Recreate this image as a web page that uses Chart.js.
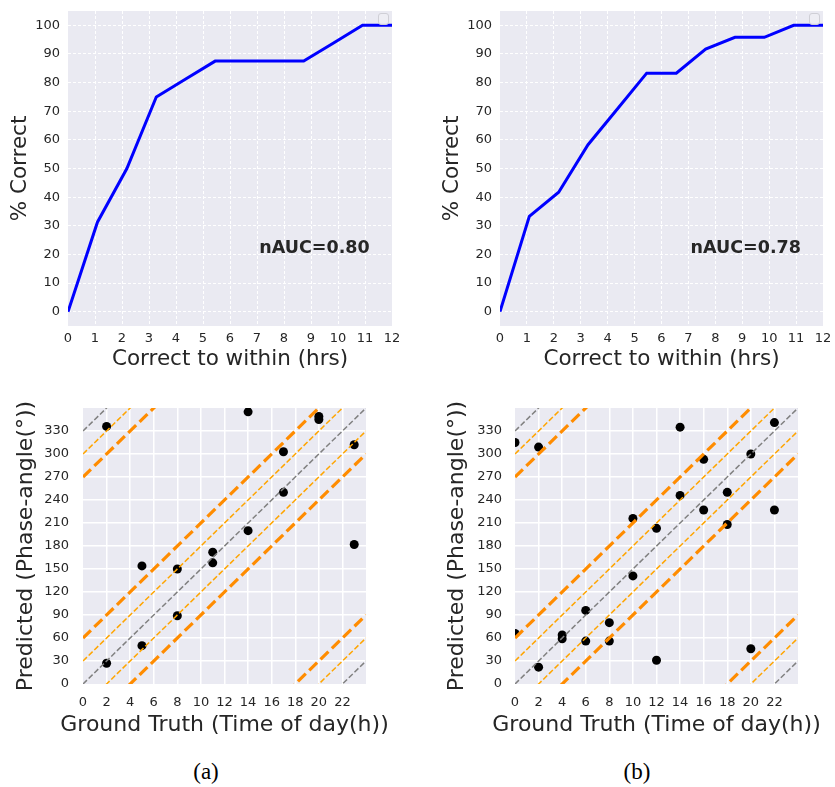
<!DOCTYPE html>
<html><head><meta charset="utf-8">
<script src="https://cdn.jsdelivr.net/npm/chart.js@4.4.1/dist/chart.umd.min.js"></script>
<style>
html,body{margin:0;padding:0;background:#fff;width:835px;height:787px;overflow:hidden;position:relative;}
canvas{position:absolute;}
.cap{position:absolute;font-family:'Liberation Serif','Times New Roman',serif;font-size:23px;color:#000;transform:translate(-50%,-50%);white-space:nowrap;}
</style></head><body>
<canvas id="cTL" width="417" height="380" style="left:0;top:0"></canvas>
<canvas id="cTR" width="418" height="380" style="left:417px;top:0"></canvas>
<canvas id="cBL" width="417" height="360" style="left:0;top:385px"></canvas>
<canvas id="cBR" width="418" height="360" style="left:417px;top:385px"></canvas>
<div class="cap" id="capA" style="left:206px;top:772px"></div>
<div class="cap" id="capB" style="left:637px;top:772px"></div>
<script>
// ---------- data ----------
const tolHours     = [0, 1.09, 2.18, 3.27, 4.36, 5.45, 6.55, 7.64, 8.73, 9.82, 10.91, 12];
const pctCorrectA  = [0, 31.25, 50, 75, 81.25, 87.5, 87.5, 87.5, 87.5, 93.75, 100, 100];
const pctCorrectB  = [0, 33.3, 41.7, 58.3, 70.8, 83.3, 83.3, 91.7, 95.8, 95.8, 100, 100];
const nAucLabels   = ['nAUC=0.80', 'nAUC=0.78'];
const nAucPos      = [9.13, 22];

const truthHoursA  = [2, 2, 5, 5, 8, 8, 11, 11, 14, 14, 17, 17, 20, 20, 23, 23];
const predAngleA   = [336, 27, 154, 50, 150, 89, 172, 158, 355, 200, 303, 250, 349, 345, 312, 182];
const truthHoursB  = [0, 0, 2, 2, 4, 4, 6, 6, 8, 8, 10, 10, 12, 12, 14, 14, 16, 16, 18, 18, 20, 20, 22, 22];
const predAngleB   = [315, 66, 309, 22, 64, 59, 96, 56, 80, 56, 216, 141, 203, 31, 335, 246, 293, 227, 250, 208, 300, 46, 341, 227];

const tolTicks     = [0,1,2,3,4,5,6,7,8,9,10,11,12];
const pctTicks     = [0,10,20,30,40,50,60,70,80,90,100];
const hourTicks    = [0,2,4,6,8,10,12,14,16,18,20,22];
const angleTicks   = [0,30,60,90,120,150,180,210,240,270,300,330];

const degPerHour   = 15;          // 360 deg / 24 h
const hourRange    = [0, 24];
const identityOffsets  = [0, 330, -330];
const innerBandOffsets = [30, -30, 300, -300];
const outerBandOffsets = [60, -60, 270, -270];

const captions = ['(a)', '(b)'];
const xTitleTop = 'Correct to within (hrs)';
const yTitleTop = '% Correct';
const xTitleBot = 'Ground Truth (Time of day(h))';
const yTitleBot = 'Predicted (Phase-angle(°))';

// ---------- helpers ----------
const TXT = '#262626';
const FONT = "'DejaVu Sans', sans-serif";
Chart.defaults.font.family = FONT;
Chart.defaults.color = TXT;

const bgPlugin = {id:'bg', beforeDraw(chart){
  const {ctx, chartArea:a} = chart;
  ctx.save(); ctx.fillStyle = '#EAEAF2';
  ctx.fillRect(a.left, a.top, a.right - a.left, a.bottom - a.top);
  ctx.restore();
}};
const annotPlugin = {id:'annot', afterDatasetsDraw(chart, args, opts){
  if (!opts || !opts.text) return;
  const {ctx, chartArea:a} = chart;
  const x = chart.scales.x.getPixelForValue(opts.x);
  const y = chart.scales.y.getPixelForValue(opts.y);
  ctx.save();
  ctx.font = "bold 17.5px 'DejaVu Sans'";
  ctx.fillStyle = TXT; ctx.textAlign = 'center'; ctx.textBaseline = 'middle';
  ctx.fillText(opts.text, x, y);
  // empty legend frame (no entries), as in the original figure
  if (opts.emptyLegend) {
    const w = 10, h = 11, lx = a.right - 4 - w, ly = a.top + 2;
    ctx.beginPath();
    if (ctx.roundRect) ctx.roundRect(lx + 0.5, ly + 0.5, w, h, 2.5); else ctx.rect(lx + 0.5, ly + 0.5, w, h);
    ctx.fillStyle = 'rgba(238,238,245,0.85)'; ctx.fill();
    ctx.strokeStyle = '#cfcfd6'; ctx.lineWidth = 1; ctx.stroke();
  }
  ctx.restore();
}};
// axis titles drawn without the width squeeze that Chart.js applies
const axTitlePlugin = {id:'axTitles', afterDraw(chart, args, o){
  if (!o || !o.xText) return;
  const {ctx, chartArea:a} = chart;
  ctx.save();
  ctx.fillStyle = TXT; ctx.textAlign = 'center'; ctx.textBaseline = 'middle';
  ctx.font = o.size + "px 'DejaVu Sans'";
  ctx.fillText(o.xText, (a.left + a.right)/2, a.bottom + o.xDy);
  ctx.translate(o.yX, (a.top + a.bottom)/2);
  ctx.rotate(-Math.PI/2);
  ctx.fillText(o.yText, 0, 0);
  ctx.restore();
}};

function fixedTicks(arr){ return scale => { scale.ticks = arr.map(v => ({value:v})); }; }
function edgeHide(edges, col){ return ctx => (ctx.tick && edges.includes(ctx.tick.value)) ? 'rgba(0,0,0,0)' : col; }
function noPad(s){ s.paddingTop = 0; s.paddingBottom = 0; s.paddingLeft = 0; s.paddingRight = 0; }

function topChart(id, values, label, L){
  new Chart(document.getElementById(id), {
    type:'line',
    data:{datasets:[{
      data: tolHours.map((h,i)=>({x:h, y:values[i]})),
      borderColor:'#0000FF', borderWidth:3, pointRadius:0, tension:0, fill:false
    }]},
    options:{
      responsive:false, animation:false, devicePixelRatio:1,
      layout:{padding:{left:0, top:11, right:L.padR, bottom:0}},
      plugins:{legend:{display:false}, tooltip:{enabled:false},
        annot:{text:label, x:nAucPos[0], y:nAucPos[1], emptyLegend:true},
        axTitles:{xText:xTitleTop, yText:yTitleTop, size:21.5, xDy:33, yX:L.yTitleX}},
      scales:{
        x:{type:'linear', min:0, max:12,
          afterBuildTicks: fixedTicks(tolTicks),
          afterFit: s => { s.height = 54; noPad(s); },
          grid:{color: edgeHide([0,12],'#FFFFFF'), lineWidth:1, drawTicks:false},
          border:{display:false, dash:[3,2]},
          ticks:{font:{size:13}, color:TXT, padding:5, maxRotation:0, autoSkip:false}
        },
        y:{type:'linear', min:-5, max:105,
          afterBuildTicks: fixedTicks(pctTicks),
          afterFit: s => { s.width = L.yW; noPad(s); },
          grid:{color:'#FFFFFF', lineWidth:1, drawTicks:false},
          border:{display:false, dash:[3,2]},
          ticks:{font:{size:13}, color:TXT, padding:8}
        }
      }
    },
    plugins:[bgPlugin, annotPlugin, axTitlePlugin]
  });
}

function diagLines(offsets, color, width, dash){
  return offsets.map(o => ({
    type:'line',
    data: hourRange.map(h => ({x:h, y:degPerHour*h + o})),
    borderColor:color, borderWidth:width, borderDash:dash, pointRadius:0,
    fill:false, tension:0, clip:0, order:0
  }));
}

function botChart(id, hours, angles, L){
  const datasets = [
    ...diagLines(identityOffsets, '#808080', 1.5, [5.5,2.4]),
    ...diagLines(innerBandOffsets, '#FFA500', 1.5, [5.5,2.4]),
    ...diagLines(outerBandOffsets, '#FF8C00', 3.2, [11,4.8]),
    {type:'scatter', data: hours.map((h,i)=>({x:h, y:angles[i]})),
     backgroundColor:'#000000', borderColor:'#000000', pointRadius:4.5, borderWidth:0, clip:0, order:1}
  ];
  new Chart(document.getElementById(id), {
    type:'scatter',
    data:{datasets},
    options:{
      responsive:false, animation:false, devicePixelRatio:1,
      layout:{padding:{left:0, top:23, right:L.padR, bottom:0}},
      plugins:{legend:{display:false}, tooltip:{enabled:false},
        axTitles:{xText:xTitleBot, yText:yTitleBot, size:22, xDy:41, yX:L.yTitleX}},
      scales:{
        x:{type:'linear', min:0, max:24,
          afterBuildTicks: fixedTicks(hourTicks),
          afterFit: s => { s.height = 61; noPad(s); },
          grid:{color: edgeHide([0],'#FFFFFF'), lineWidth:1.5, drawTicks:false},
          border:{display:false},
          ticks:{font:{size:13}, color:TXT, padding:11, maxRotation:0, autoSkip:false}
        },
        y:{type:'linear', min:0, max:360,
          afterBuildTicks: fixedTicks(angleTicks),
          afterFit: s => { s.width = L.yW; noPad(s); },
          grid:{color: edgeHide([0],'#FFFFFF'), lineWidth:1.5, drawTicks:false},
          border:{display:false},
          ticks:{font:{size:13}, color:TXT, padding:L.tickPad}
        }
      }
    },
    plugins:[bgPlugin, axTitlePlugin]
  });
}

topChart('cTL', pctCorrectA, nAucLabels[0], {padR:25, yW:68, yTitleX:20.5});
topChart('cTR', pctCorrectB, nAucLabels[1], {padR:12, yW:83, yTitleX:35.5});
botChart('cBL', truthHoursA, predAngleA, {padR:51, yW:83, yTitleX:26, tickPad:14});
botChart('cBR', truthHoursB, predAngleB, {padR:37, yW:98, yTitleX:40.5, tickPad:13});

document.getElementById('capA').textContent = captions[0];
document.getElementById('capB').textContent = captions[1];
</script>
</body></html>
